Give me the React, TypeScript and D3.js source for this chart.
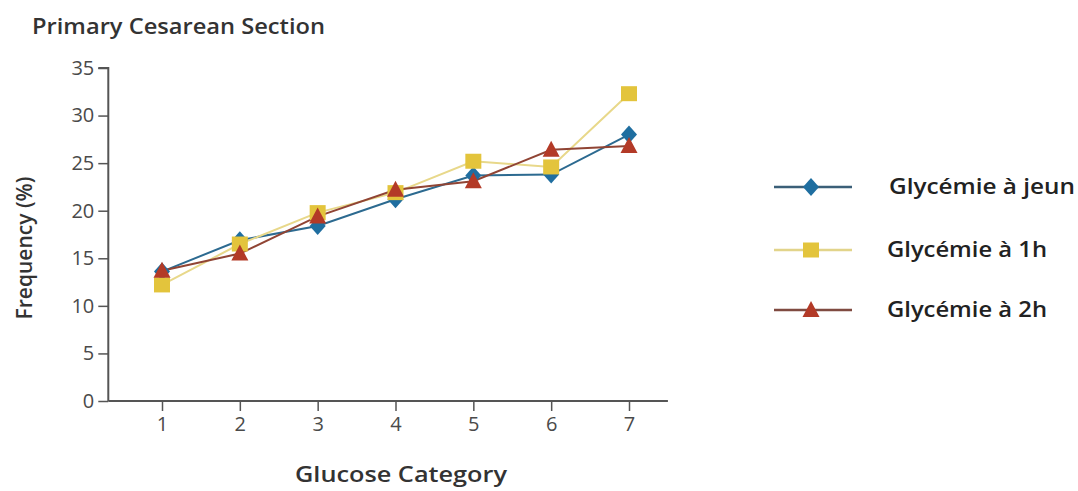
import React, { useEffect, useRef } from 'react';
import * as d3 from 'd3';

const categories = [1, 2, 3, 4, 5, 6, 7];
const fastingValues = [13.6, 16.9, 18.4, 21.2, 23.7, 23.8, 28.0];
const oneHourValues = [12.2, 16.5, 19.8, 21.9, 25.2, 24.6, 32.3];
const twoHourValues = [13.7, 15.5, 19.4, 22.2, 23.1, 26.4, 26.8];
const yTicks = [0, 5, 10, 15, 20, 25, 30, 35];
const seriesNames = ['Glycémie à jeun', 'Glycémie à 1h', 'Glycémie à 2h'];

const series = [
  { name: seriesNames[0], values: fastingValues, line: '#2c6a90', legendLine: '#3b5f78', fill: '#1f6ea0', shape: 'diamond', width: 186 },
  { name: seriesNames[1], values: oneHourValues, line: '#e8d88a', legendLine: '#e2d48a', fill: '#e3c43c', shape: 'square', width: 160 },
  { name: seriesNames[2], values: twoHourValues, line: '#904434', legendLine: '#7f4a40', fill: '#b33a27', shape: 'triangle', width: 160 },
];

// marker outline centred on 0,0
function marker(shape: string) {
  const p = d3.path();
  if (shape === 'diamond') {
    p.moveTo(0, -9);
    p.lineTo(8, 0);
    p.lineTo(0, 9);
    p.lineTo(-8, 0);
  } else if (shape === 'square') {
    p.rect(-8, -7.5, 16, 15);
  } else {
    p.moveTo(0, -9);
    p.lineTo(8.5, 7);
    p.lineTo(-8.5, 7);
  }
  p.closePath();
  return p.toString();
}

export default function App() {
  const svgRef = useRef<SVGSVGElement>(null);

  useEffect(() => {
    const width = 1078;
    const height = 491;
    const svg = d3.select(svgRef.current).attr('width', width).attr('height', height);
    svg.selectAll('*').remove();

    const font = '"Open Sans", "Liberation Sans", sans-serif';
    const x = d3.scaleLinear().domain([1, 7]).range([162, 629]);
    const y = d3.scaleLinear().domain([0, 35]).range([401, 68]);
    const xLeft = x(0.31);
    const xRight = x(7.5);

    svg.append('rect').attr('width', width).attr('height', height).attr('fill', 'white');

    svg
      .append('text')
      .attr('x', 32)
      .attr('y', 34)
      .attr('font-family', font)
      .attr('font-weight', 600)
      .attr('font-size', 21)
      .attr('fill', '#333')
      .attr('textLength', 293)
      .attr('lengthAdjust', 'spacingAndGlyphs')
      .text('Primary Cesarean Section');

    // y axis
    const yAxis = svg
      .append('g')
      .attr('transform', `translate(${xLeft},0)`)
      .call(d3.axisLeft(y).tickValues(yTicks).tickSize(10).tickPadding(4));
    yAxis.select('.domain').attr('d', `M-10,${y(35)}H0V${y(0)}`);

    // x axis
    const xAxis = svg
      .append('g')
      .attr('transform', `translate(0,${y(0)})`)
      .call(d3.axisBottom(x).tickValues(categories).tickSize(10).tickPadding(6).tickFormat(d3.format('d')));
    xAxis.select('.domain').attr('d', `M${xLeft},0H${xRight}`);

    [yAxis, xAxis].forEach((g) => {
      g.select('.domain').attr('stroke', '#555').attr('stroke-width', 2).attr('fill', 'none');
      g.selectAll('.tick line').attr('stroke', '#555').attr('stroke-width', 1.5);
      g.selectAll('.tick text')
        .attr('font-family', font)
        .attr('font-size', 20)
        .attr('fill', '#4a4a4a');
    });

    svg
      .append('text')
      .attr('transform', 'translate(32,248) rotate(-90)')
      .attr('text-anchor', 'middle')
      .attr('font-family', font)
      .attr('font-weight', 600)
      .attr('font-size', 21)
      .attr('fill', '#333')
      .text('Frequency (%)');

    svg
      .append('text')
      .attr('x', 295)
      .attr('y', 482)
      .attr('font-family', font)
      .attr('font-weight', 600)
      .attr('font-size', 21)
      .attr('fill', '#333')
      .attr('textLength', 212)
      .attr('lengthAdjust', 'spacingAndGlyphs')
      .text('Glucose Category');

    const line = d3
      .line<number>()
      .x((d, i) => x(categories[i]))
      .y((d) => y(d));

    series.forEach((s) => {
      svg
        .append('path')
        .attr('d', line(s.values))
        .attr('fill', 'none')
        .attr('stroke', s.line)
        .attr('stroke-width', 2);
    });

    series.forEach((s) => {
      svg
        .append('g')
        .selectAll('path')
        .data(s.values)
        .enter()
        .append('path')
        .attr('transform', (d, i) => `translate(${x(categories[i])},${y(d)})`)
        .attr('d', marker(s.shape))
        .attr('fill', s.fill);
    });

    // legend
    const rowY = [187, 250, 310];
    series.forEach((s, i) => {
      const row = svg.append('g').attr('transform', `translate(0,${rowY[i]})`);
      row
        .append('line')
        .attr('x1', 774)
        .attr('x2', 852)
        .attr('stroke', s.legendLine)
        .attr('stroke-width', 2.5);
      row
        .append('path')
        .attr('transform', 'translate(811,0)')
        .attr('d', marker(s.shape))
        .attr('fill', s.fill);
      row
        .append('text')
        .attr('x', i === 0 ? 889 : 887)
        .attr('y', 7)
        .attr('font-family', font)
        .attr('font-weight', 600)
        .attr('font-size', 21)
        .attr('fill', '#222')
        .attr('textLength', s.width)
        .attr('lengthAdjust', 'spacingAndGlyphs')
        .text(s.name);
    });
  }, []);

  return (
    <div>
      <svg ref={svgRef} style={{ position: 'absolute', left: 0, top: 0 }}></svg>
    </div>
  );
}
